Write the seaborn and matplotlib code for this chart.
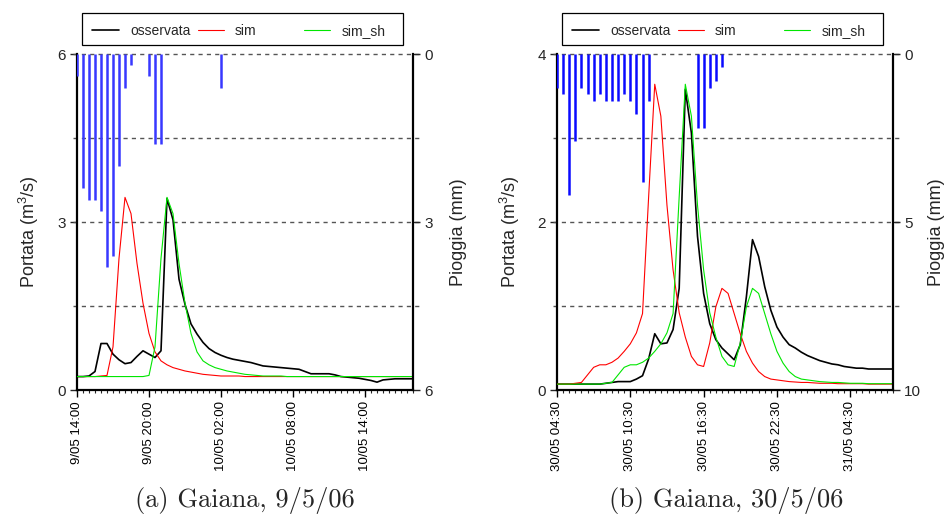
import numpy as np
import pandas as pd
import matplotlib
matplotlib.use("Agg")
import matplotlib.pyplot as plt
import matplotlib.dates as mdates
import matplotlib.ticker as mticker
from matplotlib.patches import Rectangle
import seaborn as sns

# ---------------- data: panel (a) Gaiana 9/5/06 (30-min steps) ----------------
start_a = "2006-05-09 14:00"
obs_a = [0.24, 0.24, 0.25, 0.33, 0.83, 0.83, 0.64, 0.54, 0.47, 0.49,
         0.60, 0.70, 0.64, 0.58, 0.70, 3.42, 3.04, 1.98, 1.53, 1.18,
         1.00, 0.85, 0.74, 0.67, 0.62, 0.58, 0.55, 0.53, 0.51, 0.49,
         0.46, 0.43, 0.42, 0.41, 0.40, 0.39, 0.38, 0.37, 0.33, 0.29,
         0.29, 0.29, 0.29, 0.27, 0.24, 0.23, 0.22, 0.21, 0.19, 0.17,
         0.14, 0.18, 0.19, 0.20, 0.20, 0.20, 0.20]
sim_a = [0.24, 0.24, 0.24, 0.24, 0.25, 0.26, 0.77, 2.35, 3.44, 3.15,
         2.26, 1.55, 1.01, 0.68, 0.52, 0.45, 0.40, 0.37, 0.34, 0.32,
         0.30, 0.28, 0.27, 0.26, 0.25, 0.25, 0.25, 0.25, 0.24, 0.24,
         0.24, 0.24, 0.24, 0.24, 0.24, 0.24, 0.24, 0.24, 0.24, 0.24,
         0.24, 0.24, 0.24, 0.24, 0.24, 0.24, 0.24, 0.24, 0.24, 0.24,
         0.24, 0.24, 0.24, 0.24, 0.24, 0.24, 0.24]
simsh_a = [0.24, 0.24, 0.24, 0.24, 0.24, 0.24, 0.24, 0.24, 0.24, 0.24,
           0.24, 0.24, 0.26, 0.77, 2.35, 3.44, 3.15, 2.26, 1.55, 1.01,
           0.68, 0.52, 0.45, 0.40, 0.37, 0.34, 0.32, 0.30, 0.28, 0.27,
           0.26, 0.25, 0.25, 0.25, 0.25, 0.24, 0.24, 0.24, 0.24, 0.24,
           0.24, 0.24, 0.24, 0.24, 0.24, 0.24, 0.24, 0.24, 0.24, 0.24,
           0.24, 0.24, 0.24, 0.24, 0.24, 0.24, 0.24]
rain_a = [0.4, 2.4, 2.6, 2.6, 2.8, 3.8, 3.6, 2.0, 0.6, 0.2,
          0.0, 0.0, 0.4, 1.6, 1.6, 0.0, 0.0, 0.0, 0.0, 0.0,
          0.0, 0.0, 0.0, 0.0, 0.6, 0.0, 0.0, 0.0, 0.0, 0.0,
          0.0, 0.0, 0.0, 0.0, 0.0, 0.0, 0.0, 0.0, 0.0, 0.0,
          0.0, 0.0, 0.0, 0.0, 0.0, 0.0, 0.0, 0.0, 0.0, 0.0,
          0.0, 0.0, 0.0, 0.0, 0.0, 0.0, 0.0]
ticks_a = ["2006-05-09 14:00", "2006-05-09 20:00", "2006-05-10 02:00",
           "2006-05-10 08:00", "2006-05-10 14:00"]
ticklabels_a = ["9/05 14:00", "9/05 20:00", "10/05 02:00", "10/05 08:00", "10/05 14:00"]
qticks_a = [0, 3, 6]
pticks_a = [0, 3, 6]
grid_a = [1.5, 3, 4.5, 6]
caption_a = "(a) Gaiana, 9/5/06"

# ---------------- data: panel (b) Gaiana 30/5/06 (30-min steps) ----------------
start_b = "2006-05-30 04:30"
obs_b = [0.07, 0.07, 0.07, 0.07, 0.07, 0.07, 0.07, 0.07, 0.08, 0.09,
         0.10, 0.10, 0.10, 0.13, 0.17, 0.37, 0.67, 0.55, 0.56, 0.72,
         1.21, 3.58, 3.06, 1.83, 1.15, 0.79, 0.60, 0.50, 0.43, 0.36,
         0.54, 1.11, 1.79, 1.59, 1.23, 0.95, 0.75, 0.63, 0.54, 0.50,
         0.45, 0.41, 0.38, 0.35, 0.33, 0.31, 0.30, 0.28, 0.27, 0.26,
         0.26, 0.25, 0.25, 0.25, 0.25, 0.25]
sim_b = [0.07, 0.07, 0.07, 0.08, 0.09, 0.18, 0.27, 0.30, 0.30, 0.33,
         0.38, 0.46, 0.55, 0.68, 0.91, 2.30, 3.64, 3.26, 2.20, 1.43,
         0.92, 0.63, 0.40, 0.30, 0.28, 0.56, 0.99, 1.21, 1.15, 0.91,
         0.67, 0.46, 0.32, 0.22, 0.16, 0.13, 0.12, 0.11, 0.10, 0.095,
         0.09, 0.09, 0.085, 0.08, 0.08, 0.08, 0.075, 0.075, 0.075, 0.075,
         0.075, 0.07, 0.07, 0.07, 0.07, 0.07]
simsh_b = [0.07, 0.07, 0.07, 0.07, 0.07, 0.07, 0.07, 0.07, 0.08, 0.09,
           0.18, 0.27, 0.30, 0.30, 0.33, 0.38, 0.46, 0.55, 0.68, 0.91,
           2.30, 3.64, 3.26, 2.20, 1.43, 0.92, 0.63, 0.40, 0.30, 0.28,
           0.56, 0.99, 1.21, 1.15, 0.91, 0.67, 0.46, 0.32, 0.22, 0.16,
           0.13, 0.12, 0.11, 0.10, 0.095, 0.09, 0.09, 0.085, 0.08, 0.08,
           0.08, 0.075, 0.075, 0.075, 0.075, 0.075]
rain_b = [1.0, 1.2, 4.2, 2.6, 1.0, 1.2, 1.4, 1.2, 1.4, 1.4,
          1.4, 1.2, 1.4, 1.8, 3.8, 1.4, 0.0, 0.0, 0.0, 0.0,
          0.0, 0.0, 0.0, 2.2, 2.2, 1.0, 0.8, 0.4, 0.0, 0.0,
          0.0, 0.0, 0.0, 0.0, 0.0, 0.0, 0.0, 0.0, 0.0, 0.0,
          0.0, 0.0, 0.0, 0.0, 0.0, 0.0, 0.0, 0.0, 0.0, 0.0,
          0.0, 0.0, 0.0, 0.0, 0.0, 0.0]
ticks_b = ["2006-05-30 04:30", "2006-05-30 10:30", "2006-05-30 16:30",
           "2006-05-30 22:30", "2006-05-31 04:30"]
ticklabels_b = ["30/05 04:30", "30/05 10:30", "30/05 16:30", "30/05 22:30", "31/05 04:30"]
qticks_b = [0, 2, 4]
pticks_b = [0, 5, 10]
grid_b = [1, 2, 3, 4]
caption_b = "(b) Gaiana, 30/5/06"

series_names = ["osservata", "sim", "sim_sh"]
series_colors = {"osservata": "black", "sim": "#ff0000", "sim_sh": "#00e600"}
series_lw = {"osservata": 1.2, "sim": 0.8, "sim_sh": 0.8}
# legend entries sit on a fixed pitch inside the box (axes-fraction start of each entry)
legend_slots = [0.046, 0.359, 0.675]

# ---------------- style ----------------
sns.set_theme(style="ticks")
plt.rcParams["font.family"] = ["Liberation Sans", "DejaVu Sans"]
plt.rcParams["mathtext.fontset"] = "custom"
plt.rcParams["mathtext.rm"] = "Liberation Sans"
plt.rcParams["mathtext.it"] = "Liberation Sans:italic"
plt.rcParams["mathtext.bf"] = "Liberation Sans:bold"
plt.rcParams["mathtext.default"] = "regular"

W, H = 949, 515
fig = plt.figure(figsize=(W / 100, H / 100), dpi=100)


def panel(left_px, start, obs, sim, simsh, rain, qmax, qticks, pmax, pticks,
          grid, ticks, ticklabels, rain_color, caption, cap_x, lab_l, lab_r):
    ax = fig.add_axes([left_px / W, (H - 390) / H, 336 / W, 336 / H])
    times = pd.date_range(start, periods=len(obs), freq="30min")
    df = pd.DataFrame({"time": times, "osservata": obs, "sim": sim, "sim_sh": simsh})
    long = df.melt(id_vars="time", var_name="serie", value_name="portata")
    for name in series_names:
        sns.lineplot(data=long[long["serie"] == name], x="time", y="portata",
                     color=series_colors[name], lw=series_lw[name], ax=ax,
                     label=name, estimator=None, zorder=3)
    ax.set_xlim(times[0], times[-1])
    ax.set_ylim(0, qmax)
    ax.set_yticks(qticks)
    ax.set_yticklabels([str(v) for v in qticks])
    ax.hlines(grid, -0.012, 1.02, transform=ax.get_yaxis_transform(),
              colors="#555555", linestyles=(0, (3, 3)), lw=1.0, clip_on=False, zorder=1)

    ax.xaxis.set_major_locator(mticker.FixedLocator(mdates.date2num(pd.to_datetime(ticks))))
    ax.xaxis.set_major_formatter(mticker.FixedFormatter(ticklabels))
    ax.xaxis.set_minor_locator(mdates.MinuteLocator(byminute=[0, 30]))
    ax.tick_params(axis="x", which="major", direction="out", length=5, width=1.0,
                   labelsize=9.5, labelrotation=90, pad=3, colors="black")
    ax.tick_params(axis="x", which="minor", direction="out", length=2.5, width=0.8)
    ax.tick_params(axis="y", direction="out", length=5, width=1.0, labelsize=11, pad=3)
    ax.set_xlabel("")
    ax.set_ylabel("Portata (m$^3$/s)", fontsize=13)
    ax.yaxis.set_label_coords(lab_l, 0.47)
    for s in ["left", "bottom"]:
        ax.spines[s].set_linewidth(1.6)
        ax.spines[s].set_color("black")
    ax.spines["top"].set_visible(False)
    ax.spines["right"].set_visible(False)

    ax2 = ax.twinx()
    ax2.vlines(times, 0, rain, colors=rain_color, lw=1.8, zorder=2)
    ax2.set_ylim(pmax, 0)
    ax2.set_yticks(pticks)
    ax2.set_yticklabels([str(v) for v in pticks])
    ax2.tick_params(axis="y", direction="out", length=5, width=1.0, labelsize=11, pad=3)
    ax2.set_ylabel("Pioggia (mm)", fontsize=13)
    ax2.yaxis.set_label_coords(lab_r, 0.47)
    ax2.spines["right"].set_linewidth(1.6)
    ax2.spines["right"].set_color("black")
    for s in ["top", "left", "bottom"]:
        ax2.spines[s].set_visible(False)

    # legend: one entry per slot, inside a common black frame
    handles, labels = ax.get_legend_handles_labels()
    if ax.get_legend() is not None:
        ax.get_legend().remove()
    n = len(handles)
    for i, (h, l, xs) in enumerate(zip(handles, labels, legend_slots)):
        leg = ax2.legend([h], [l], loc="center left", bbox_to_anchor=(xs, 1.068),
                         frameon=False, fontsize=10, handlelength=1.9,
                         handletextpad=0.8, borderpad=0, borderaxespad=0)
        if i < n - 1:
            ax2.add_artist(leg)
    ax2.add_patch(Rectangle((0.015, 1.027), 0.955, 0.095, transform=ax2.transAxes,
                            fill=False, ec="black", lw=0.9, clip_on=False))

    fig.text(cap_x / W, 1 - 501 / H, caption, family="cmr10", fontsize=19,
             ha="center", va="center")
    return ax


panel(77, start_a, obs_a, sim_a, simsh_a, rain_a, 6, qticks_a, 6, pticks_a,
      grid_a, ticks_a, ticklabels_a, "#3838ff", caption_a, 245, -0.107, 1.11)
panel(557, start_b, obs_b, sim_b, simsh_b, rain_b, 4, qticks_b, 10, pticks_b,
      grid_b, ticks_b, ticklabels_b, "#0a0aff", caption_b, 726, -0.104, 1.104)

fig.savefig("out.png", dpi=100)
